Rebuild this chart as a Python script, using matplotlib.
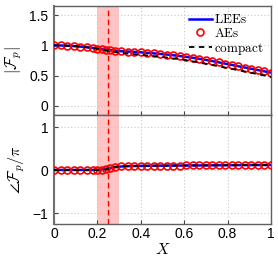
import numpy as np
import matplotlib
matplotlib.use("Agg")
import matplotlib.pyplot as plt

plt.rcParams['mathtext.fontset'] = 'cm'
plt.rcParams['font.family'] = ['Liberation Sans', 'DejaVu Sans']

# ---- data ----
x_ae = [0.00, 0.03, 0.06, 0.09, 0.12, 0.15, 0.18, 0.20, 0.22, 0.24, 0.26, 0.28,
        0.31, 0.34, 0.37, 0.40, 0.43, 0.46, 0.49, 0.52, 0.55, 0.58, 0.61, 0.64,
        0.67, 0.70, 0.73, 0.76, 0.79, 0.82, 0.85, 0.88, 0.91, 0.94, 0.97, 1.00]
mag_ae = [1.000, 0.998, 0.994, 0.988, 0.980, 0.970, 0.958, 0.948, 0.938, 0.928,
          0.920, 0.914, 0.903, 0.898, 0.892, 0.885, 0.877, 0.868, 0.859, 0.848,
          0.837, 0.824, 0.810, 0.795, 0.778, 0.760, 0.740, 0.719, 0.698, 0.677,
          0.655, 0.634, 0.613, 0.592, 0.571, 0.550]
phase_ae = [0.005, 0.005, 0.005, 0.005, 0.005, 0.005, 0.006, 0.008, 0.015, 0.030,
            0.050, 0.070, 0.085, 0.092, 0.096, 0.099, 0.101, 0.103, 0.104, 0.105,
            0.106, 0.107, 0.108, 0.109, 0.110, 0.111, 0.112, 0.113, 0.114, 0.115,
            0.116, 0.117, 0.118, 0.118, 0.119, 0.120]

x_lee = x_ae
mag_lee = mag_ae
phase_lee = phase_ae

x_cmp = [0.00, 0.05, 0.10, 0.15, 0.20, 0.22, 0.24, 0.26, 0.28, 0.30, 0.35, 0.40,
         0.50, 0.60, 0.70, 0.80, 0.90, 1.00]
mag_cmp = [1.000, 0.996, 0.986, 0.968, 0.943, 0.930, 0.918, 0.902, 0.890, 0.880,
           0.860, 0.845, 0.808, 0.762, 0.695, 0.625, 0.553, 0.480]
phase_cmp = [0.0, 0.0, 0.0, 0.0, 0.003, 0.008, 0.020, 0.060, 0.075, 0.085,
             0.095, 0.100, 0.104, 0.108, 0.111, 0.115, 0.118, 0.120]

band = (0.2, 0.3)
x_mark = 0.25

xticks = [0, 0.2, 0.4, 0.6, 0.8, 1]
xticklabels = ['0', '0.2', '0.4', '0.6', '0.8', '1']
yticks_top = [0, 0.5, 1, 1.5]
yticklabels_top = ['0', '0.5', '1', '1.5']
yticks_bot = [-1, 0, 1]
yticklabels_bot = ['\u22121', '0', '1']

fig = plt.figure(figsize=(2.78, 2.58), dpi=100)
L, R = 54/278, 271/278
ax1 = fig.add_axes([L, 1-115/258, R-L, 109/258])
ax2 = fig.add_axes([L, 1-224/258, R-L, 109/258])

for ax in (ax1, ax2):
    ax.axvspan(band[0], band[1], color='#ffc4c4', lw=0, zorder=0)
    ax.axvline(x_mark, color='red', ls=(0, (4, 2.5)), lw=1.0, zorder=1)
    ax.set_xlim(0, 1)
    ax.set_xticks(xticks)
    ax.grid(True, ls=(0, (1, 2)), color='#c8c8c8', lw=0.8)
    ax.set_axisbelow(True)
    ax.tick_params(direction='in', length=3, labelsize=10, color='#444444', pad=4)
    ax.tick_params(axis='x', pad=2.5)
    for s in ax.spines.values():
        s.set_color('#606060')
        s.set_linewidth(1.0)
    ax.spines['left'].set_linewidth(1.5)
    ax.spines['left'].set_color('#707070')

ax1.plot(x_lee, mag_lee, color='blue', lw=1.8, label=r'$\mathrm{LEEs}$', zorder=3)
ax1.plot(x_ae, mag_ae, 'o', ms=5, mfc='none', mec='red', mew=1.2,
         label=r'$\mathrm{AEs}$', zorder=4)
ax1.plot(x_cmp, mag_cmp, color='black', ls=(0, (3, 2.5)), lw=1.3,
         label=r'$\mathrm{compact}$', zorder=5)
ax1.set_ylim(-0.15, 1.65)
ax1.set_yticks(yticks_top)
ax1.set_yticklabels(yticklabels_top)
ax1.set_xticklabels([])
ax1.set_ylabel(r'$|\mathcal{F}_p|$', fontsize=11.5, labelpad=4)
leg = ax1.legend(loc='upper right', frameon=False, fontsize=9.5,
                 handlelength=1.7, handletextpad=0.2, labelspacing=0.05,
                 borderaxespad=0.15)

ax2.plot(x_lee, phase_lee, color='blue', lw=1.8, zorder=3)
ax2.plot(x_ae, phase_ae, 'o', ms=5, mfc='none', mec='red', mew=1.2, zorder=4)
ax2.plot(x_cmp, phase_cmp, color='black', ls=(0, (3, 2.5)), lw=1.3, zorder=5)
ax2.set_ylim(-1.25, 1.28)
ax2.set_yticks(yticks_bot)
ax2.set_yticklabels(yticklabels_bot)
ax2.set_xticklabels(xticklabels)
ax2.set_ylabel(r'$\angle\mathcal{F}_p/\pi$', fontsize=11.5, labelpad=4)
ax2.set_xlabel(r'$X$', fontsize=11.5)
ax2.xaxis.set_label_coords(0.5, -0.165)

fig.savefig('out.png', dpi=100)
